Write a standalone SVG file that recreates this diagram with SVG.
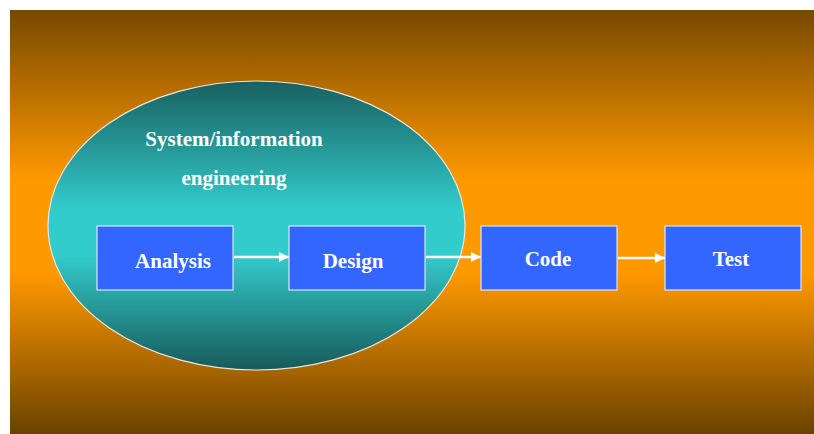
<svg xmlns="http://www.w3.org/2000/svg" width="814" height="434" viewBox="0 0 814 434">
<defs>
<linearGradient id="bg" x1="0" y1="0" x2="0" y2="1">
<stop offset="0" stop-color="#774800"/>
<stop offset="0.4" stop-color="#ff9900"/>
<stop offset="0.62" stop-color="#ff9900"/>
<stop offset="1" stop-color="#6b4200"/>
</linearGradient>
<linearGradient id="ell" x1="0" y1="0" x2="0" y2="1">
<stop offset="0" stop-color="#196060"/>
<stop offset="0.45" stop-color="#33cccc"/>
<stop offset="0.6" stop-color="#33cccc"/>
<stop offset="1" stop-color="#185a5a"/>
</linearGradient>
<marker id="ah" viewBox="0 0 10 10" refX="10" refY="5" markerWidth="4" markerHeight="4" orient="auto" markerUnits="strokeWidth">
<path d="M0,0 L10,5 L0,10 z" fill="#ffffff"/>
</marker>
<style>
.box{fill:#3366ff;stroke:#dde4ff;stroke-width:1.2}
.lbl{font-family:"Liberation Serif","Times New Roman",serif;font-weight:bold;font-size:21px;fill:#ffffff;text-anchor:middle}
.con{stroke:#ffffff;stroke-width:2.5;fill:none;marker-end:url(#ah)}
</style>
</defs>
<rect x="0" y="0" width="814" height="434" fill="#ffffff"/>
<rect x="10" y="10" width="804" height="424" fill="url(#bg)"/>
<g id="sysinfo">
<ellipse cx="256.5" cy="225.5" rx="208.5" ry="144.5" fill="url(#ell)" stroke="#e8e8e0" stroke-width="1.2"/>
<text class="lbl" x="234" y="146">System/information</text>
<text class="lbl" x="234" y="185">engineering</text>
</g>
<g id="connectors">
<line class="con" x1="234" y1="257" x2="289" y2="257"/>
<line class="con" x1="426" y1="257" x2="481" y2="257"/>
<line class="con" x1="618" y1="258" x2="665" y2="258"/>
</g>
<g id="analysis">
<rect class="box" x="97" y="226" width="136" height="64"/>
<text class="lbl" x="173" y="268">Analysis</text>
</g>
<g id="design">
<rect class="box" x="289" y="226" width="136" height="64"/>
<text class="lbl" x="353" y="268">Design</text>
</g>
<g id="code">
<rect class="box" x="481" y="226" width="136" height="64"/>
<text class="lbl" x="548" y="266">Code</text>
</g>
<g id="test">
<rect class="box" x="665" y="226" width="136" height="64"/>
<text class="lbl" x="731" y="266">Test</text>
</g>
</svg>
